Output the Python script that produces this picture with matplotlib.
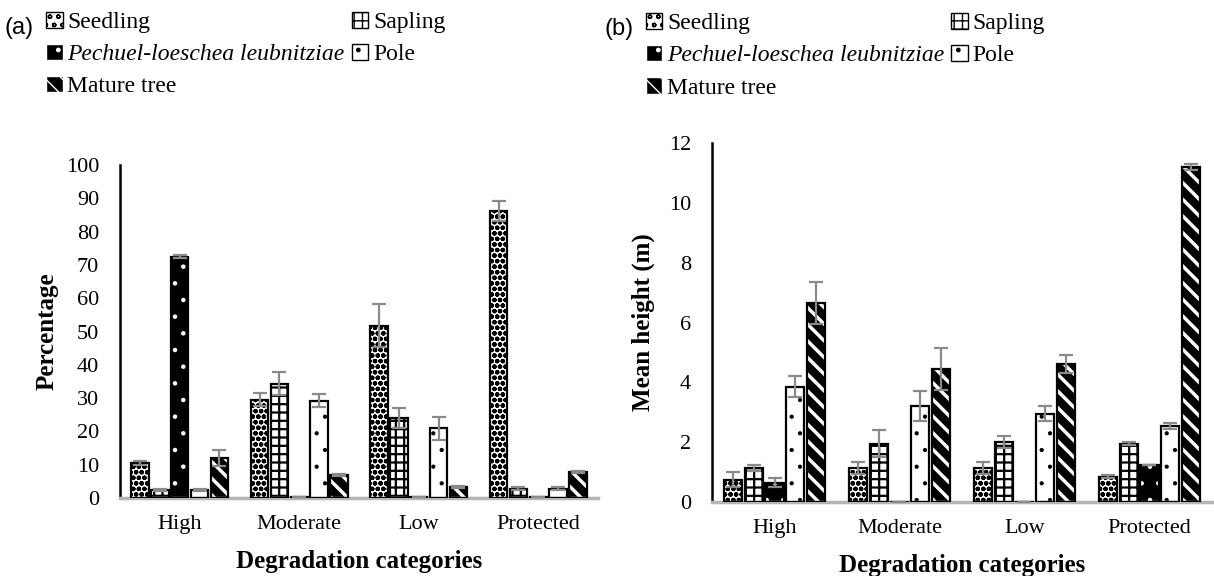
import numpy as np
import matplotlib
matplotlib.use("Agg")
import matplotlib.pyplot as plt
from matplotlib.patches import Patch

categories = ["High", "Moderate", "Low", "Protected"]
series = ["Seedling", "Sapling", "Pechuel-loeschea leubnitziae", "Pole", "Mature tree"]

# Panel (a): percentage
pct_seedling = [10.5, 29.5, 51.8, 86.3]
pct_sapling = [2.4, 34.3, 23.9, 2.8]
pct_pl = [72.5, 0.3, 0.3, 0.3]
pct_pole = [2.4, 29.2, 20.9, 2.8]
pct_mature = [12.0, 6.8, 3.4, 7.8]
pct_err_seedling = [0.5, 2.0, 6.5, 3.0]
pct_err_sapling = [0.3, 3.5, 3.0, 0.5]
pct_err_pl = [0.4, 0.0, 0.0, 0.0]
pct_err_pole = [0.3, 2.0, 3.5, 0.5]
pct_err_mature = [2.5, 0.3, 0.3, 0.2]

# Panel (b): mean height (m)
ht_seedling = [0.75, 1.15, 1.15, 0.85]
ht_sapling = [1.15, 1.95, 2.0, 1.95]
ht_pl = [0.65, 0.0, 0.0, 1.25]
ht_pole = [3.85, 3.2, 2.95, 2.55]
ht_mature = [6.65, 4.45, 4.6, 11.2]
ht_err_seedling = [0.25, 0.2, 0.2, 0.05]
ht_err_sapling = [0.1, 0.45, 0.2, 0.05]
ht_err_pl = [0.15, 0.0, 0.0, 0.0]
ht_err_pole = [0.35, 0.5, 0.25, 0.1]
ht_err_mature = [0.7, 0.7, 0.3, 0.1]

SERIF = "Liberation Serif"
SANS = "Liberation Sans"

styles = [
    dict(facecolor="white", edgecolor="black", hatch="ooo", hlw=1.6),
    dict(facecolor="white", edgecolor="black", hatch="++", hlw=1.6),
    dict(facecolor="black", edgecolor="white", hatch=".", hlw=0.8),
    dict(facecolor="white", edgecolor="black", hatch=".", hlw=0.6),
    dict(facecolor="black", edgecolor="white", hatch="\\\\", hlw=2.5),
]

fig = plt.figure(figsize=(12.14, 5.76), dpi=100)

def set_hlw(artist, lw):
    if hasattr(artist, "set_hatch_linewidth"):
        artist.set_hatch_linewidth(lw)

def draw_panel(ax, data, errs, ymax, yticks, ylabel, ylpad):
    x = np.arange(len(categories))
    step = 0.166
    width = 0.145
    for i, (vals, er, st) in enumerate(zip(data, errs, styles)):
        pos = x + (i - 2) * step
        with plt.rc_context({"hatch.linewidth": st["hlw"]}):
            bars = ax.bar(pos, vals, width, color=st["facecolor"],
                          edgecolor=st["edgecolor"], hatch=st["hatch"],
                          linewidth=0, zorder=2)
            for b in bars:
                set_hlw(b, st["hlw"])
        ax.bar(pos, vals, width, fill=False, edgecolor="black",
               linewidth=1.6, zorder=3)
        ax.errorbar(pos, vals, yerr=er, fmt="none", ecolor="#8a8a8a",
                    elinewidth=1.6, capsize=5, capthick=1.6, zorder=4)
    ax.set_xlim(-0.5, 3.5)
    ax.set_ylim(0, ymax)
    ax.set_yticks(yticks)
    ax.set_xticks(x)
    ax.set_xticklabels(categories)
    ax.tick_params(axis="y", length=0, labelsize=16, pad=15)
    ax.tick_params(axis="x", length=0, labelsize=16, pad=12)
    for lab in ax.get_xticklabels() + ax.get_yticklabels():
        lab.set_fontfamily(SERIF)
    ax.spines["top"].set_visible(False)
    ax.spines["right"].set_visible(False)
    ax.spines["left"].set_color("black")
    ax.spines["left"].set_linewidth(1.8)
    ax.spines["bottom"].set_color("#b5b5b5")
    ax.spines["bottom"].set_linewidth(2.5)
    ax.set_ylabel(ylabel, fontfamily=SERIF, fontweight="bold", fontsize=18, labelpad=ylpad)
    ax.set_xlabel("Degradation categories", fontfamily=SERIF, fontweight="bold",
                  fontsize=18, labelpad=12)

axa = fig.add_axes([0.0988, 0.1354, 0.3938, 0.578])
draw_panel(axa,
           [pct_seedling, pct_sapling, pct_pl, pct_pole, pct_mature],
           [pct_err_seedling, pct_err_sapling, pct_err_pl, pct_err_pole, pct_err_mature],
           100, np.arange(0, 101, 10), "Percentage", 5)

axb = fig.add_axes([0.5865, 0.1285, 0.4118, 0.6232])
draw_panel(axb,
           [ht_seedling, ht_sapling, ht_pl, ht_pole, ht_mature],
           [ht_err_seedling, ht_err_sapling, ht_err_pl, ht_err_pole, ht_err_mature],
           12, np.arange(0, 13, 2), "Mean height (m)", 10)

def make_handles():
    hs = []
    for st in styles:
        with plt.rc_context({"hatch.linewidth": min(st["hlw"], 1.2)}):
            p = Patch(facecolor=st["facecolor"], edgecolor=st["edgecolor"],
                      hatch=st["hatch"].replace("ooo", "oo"), linewidth=1.0)
        hs.append(p)
    return hs

def add_legend(xanchor, yanchor):
    hs = make_handles()
    order = [0, 2, 4, 1, 3]
    leg = fig.legend([hs[i] for i in order], [series[i] for i in order],
                     loc="upper left", bbox_to_anchor=(xanchor, yanchor),
                     ncol=2, frameon=False, borderpad=0, borderaxespad=0,
                     handlelength=0.7, handleheight=0.7, handletextpad=0.2,
                     columnspacing=0.3, labelspacing=0.45,
                     prop={"family": SERIF, "size": 17})
    for t in leg.get_texts():
        if t.get_text().startswith("Pechuel"):
            t.set_style("italic")
    return leg

add_legend(0.038, 0.98)
add_legend(0.532, 0.978)

fig.text(0.004, 0.952, "(a)", fontfamily=SANS, fontsize=17, va="center", ha="left")
fig.text(0.498, 0.950, "(b)", fontfamily=SANS, fontsize=17, va="center", ha="left")

fig.savefig("out.png", dpi=100)
